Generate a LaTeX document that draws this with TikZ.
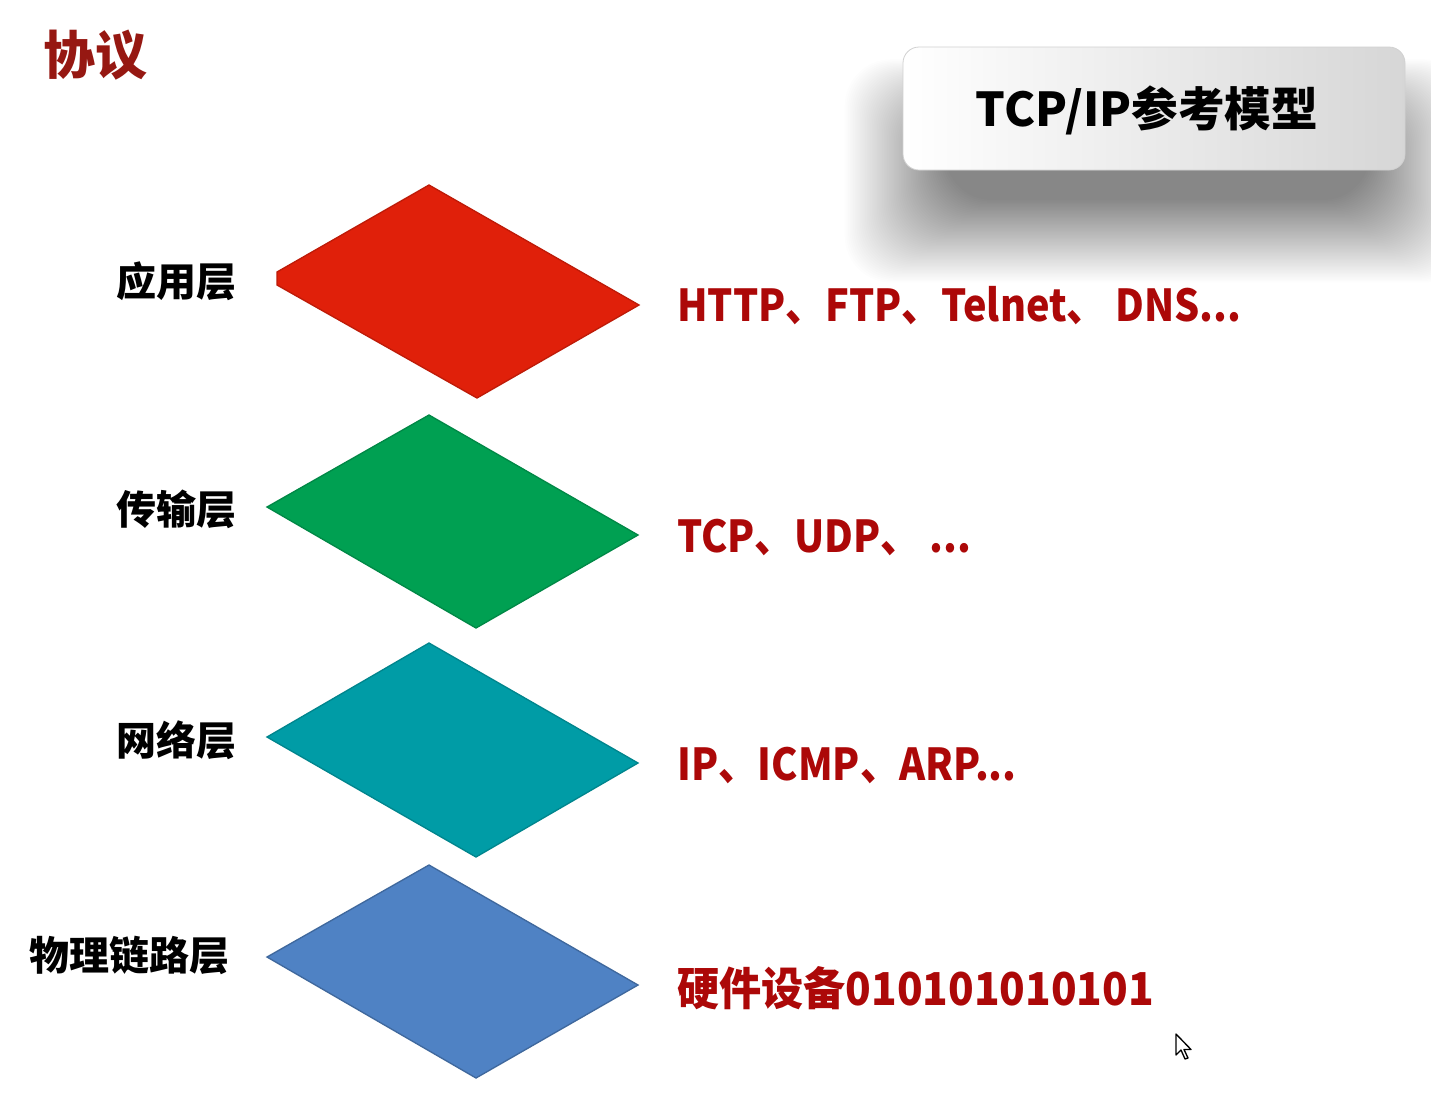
\documentclass[tikz,border=0pt]{standalone}
\usepackage{fontspec}
\newfontfamily\cjk{Noto Sans CJK SC}
\newfontfamily\cjknarrow{Noto Sans CJK SC}[FakeStretch=0.9]
\newfontfamily\cjkdigits{Noto Sans CJK SC}[FakeStretch=0.93]
\definecolor{titlered}{RGB}{150,24,18}
\definecolor{textred}{RGB}{172,8,8}
\definecolor{layerred}{RGB}{224,32,10}
\definecolor{layergreen}{RGB}{0,160,82}
\definecolor{layerteal}{RGB}{0,156,166}
\definecolor{layerblue}{RGB}{79,130,196}
\tikzset{
  layerlabel/.style={inner sep=0pt, anchor=center, font=\cjk\bfseries\fontsize{30pt}{36pt}\selectfont, text=black},
  prototext/.style={inner sep=0pt, anchor=west, font=\cjknarrow\bfseries\fontsize{33pt}{40pt}\selectfont, text=textred},
  layershape/.style={line width=1pt, line join=miter}
}
\begin{document}
\begin{tikzpicture}[x=0.75pt,y=-0.75pt]
\useasboundingbox (0,0) rectangle (1431,1111);
\fill[white] (0,0) rectangle (1431,1111);

% title
\node[inner sep=0pt, text=titlered, font=\cjk\bfseries\fontsize{39pt}{46pt}\selectfont] (title) at (95,55) {协议};

% soft shadow of the box
\foreach \i in {0,...,59}{
  \fill[black, opacity=0.0068, rounded corners=35pt]
    (945-\i*1.7, 130-\i*1.2) rectangle (1370+\i*1.7, 200+\i*1.4);
}
% box
\node[draw=black!18, line width=0.6pt, rounded corners=12pt, minimum width=502*0.75pt, minimum height=123*0.75pt,
      left color=white, right color=black!16, inner sep=0pt] (box) at (1154,108.5) {};
\node[inner sep=0pt, font=\cjk\bfseries\fontsize{35pt}{42pt}\selectfont, text=black] (boxtext) at (1147,110) {TCP/IP参考模型};

% layers
\filldraw[layershape, fill=layerred, draw=layerred!85!black]
  (429,185) -- (639,305) -- (477,398) -- (277,285) -- (277,272) -- cycle;
\filldraw[layershape, fill=layergreen, draw=layergreen!85!black]
  (429,415) -- (638,535) -- (476,628) -- (267,507) -- cycle;
\filldraw[layershape, fill=layerteal, draw=layerteal!85!black]
  (429,643) -- (638,763) -- (476,857) -- (267,737) -- cycle;
\filldraw[layershape, fill=layerblue, draw=layerblue!80!black]
  (429,865) -- (638,985) -- (476,1078) -- (267,957) -- cycle;

% layer labels
\node[layerlabel] (app) at (176,281) {应用层};
\node[layerlabel] (trans) at (176,509) {传输层};
\node[layerlabel] (net) at (176,740) {网络层};
\node[layerlabel] (phys) at (129,955) {物理链路层};

% protocols
\node[prototext] (p1) at (677,306) {HTTP、FTP、Telnet、 DNS...};
\node[prototext] (p2) at (677,537) {TCP、UDP、 ...};
\node[prototext] (p3) at (677,765) {IP、ICMP、ARP...};
\node[prototext, font=\cjkdigits\bfseries\fontsize{34pt}{40pt}\selectfont] (p4) at (677,988) {硬件设备010101010101};

% mouse cursor
\filldraw[fill=white, draw=black, line width=1pt, line join=round]
  (1176,1034) -- (1176,1055) -- (1181,1050) -- (1185,1059) -- (1188,1058) -- (1184,1049.5) -- (1191,1049.5) -- cycle;
\end{tikzpicture}
\end{document}
